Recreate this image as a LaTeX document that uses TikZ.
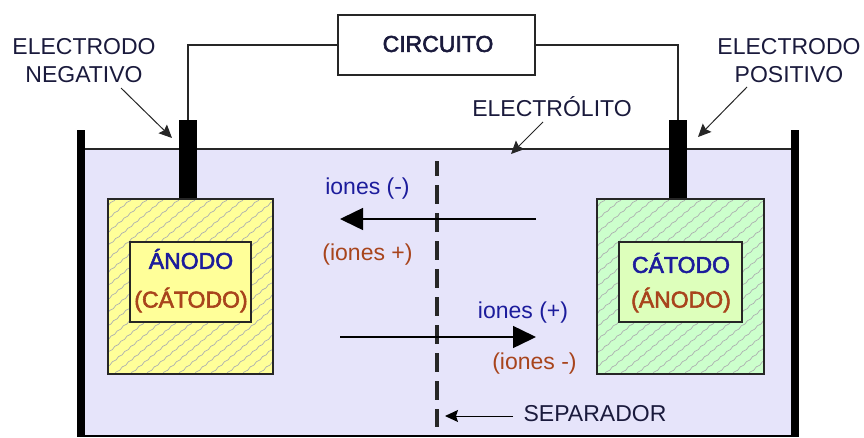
\documentclass[tikz,border=0pt]{standalone}
\usepackage{fontspec}
\setmainfont{Liberation Sans}
\newfontfamily\negrita[FakeBold=2.5]{Liberation Sans}
\usetikzlibrary{arrows.meta, decorations.pathmorphing}
\definecolor{liquido}{HTML}{E6E4FA}
\definecolor{amarillo}{HTML}{FFFF99}
\definecolor{verde}{HTML}{CCFFCC}
\definecolor{verdeclaro}{HTML}{DDFFBB}
\definecolor{azul}{HTML}{1C1C9C}
\definecolor{marron}{HTML}{A8441C}
\definecolor{rotulo}{HTML}{1A1A3C}
\definecolor{rayado}{HTML}{ADB0B0}
\tikzset{
  txt/.style={font=\fontsize{23}{26}\selectfont, text=rotulo, inner sep=0pt, align=center},
  txtb/.style={font=\fontsize{23}{26}\negrita, text=rotulo, inner sep=0pt, align=center},
  caja/.style={draw=black!85, line width=1.5pt, inner sep=0pt, outer sep=0pt},
  barra/.style={fill=black, inner sep=0pt, outer sep=0pt, minimum width=18pt},
  flecha/.style={-{Stealth[length=13pt, width=12pt, inset=2pt]}, black!85, line width=1pt},
  flechaion/.style={-{Triangle[length=23pt, width=22pt]}, line width=1.5pt},
  rayas/.style={path picture={
    \foreach \d in {-300,-284,...,120}
      \draw[rayado, line width=0.7pt, decorate, decoration={snake, segment length=8pt, amplitude=0.5pt}]
        ([xshift=\d pt]path picture bounding box.south) -- ++(215,-180);
  }},
}
\begin{document}
\begin{tikzpicture}[x=1pt, y=-1pt, >=Stealth]
  \useasboundingbox (0,0) rectangle (864,437);
  % Liquid and tank
  \fill[liquido] (81,149) rectangle (795,437);
  \draw[black!85, line width=1.2pt] (81,149) -- (795,149);
  \draw[line width=1.5pt] (81,436) -- (795,436);
  \draw[line width=8pt] (81,130) -- (81,437);
  \draw[line width=8pt] (795,130) -- (795,437);
  % Electrodes
  \node[barra, minimum height=79pt] (neg) at (188,159.5) {};
  \node[barra, minimum height=79pt] (pos) at (678,159.5) {};
  % Plates
  \node[caja, fill=amarillo, rayas, minimum width=165pt, minimum height=175pt] (placaneg) at (190.5,286.5) {};
  \node[caja, fill=verde, rayas, minimum width=167pt, minimum height=175pt] (placapos) at (680.5,286.5) {};
  \node[caja, fill=amarillo, minimum width=121pt, minimum height=80pt] (cajaneg) at (190.5,282) {};
  \node[caja, fill=verdeclaro, minimum width=123pt, minimum height=80pt] (cajapos) at (680.5,282) {};
  \node[txtb, text=azul] (anodo) at (191,259) {ÁNODO};
  \node[txtb, text=marron] (catodop) at (191,300) {(CÁTODO)};
  \node[txtb, text=azul] (catodo) at (681,263) {CÁTODO};
  \node[txtb, text=marron] (anodop) at (681,300) {(ÁNODO)};
  % Circuit
  \node[caja, fill=white, minimum width=197pt, minimum height=60pt] (circuito) at (436.5,45) {};
  \node[txtb] (circuitotxt) at (438,44) {CIRCUITO};
  \draw[black!85, line width=1.5pt] (neg.north) |- (circuito.west);
  \draw[black!85, line width=1.5pt] (pos.north) |- (circuito.east);
  % Labels with arrows
  \node[txt] (negtxt) at (84,61) {ELECTRODO\\[2pt]NEGATIVO};
  \node[txt] (postxt) at (789,61) {ELECTRODO\\[2pt]POSITIVO};
  \node[txt] (electxt) at (552,107) {ELECTRÓLITO};
  \node[txt] (septxt) at (595,414) {SEPARADOR};
  \coordinate (negini) at (121,88);
  \coordinate (negfin) at (172,138);
  \coordinate (posini) at (747,87);
  \coordinate (posfin) at (698,137);
  \coordinate (elecini) at (543,122);
  \coordinate (elecfin) at (511,154);
  \coordinate (sepini) at (513,416);
  \coordinate (sepfin) at (445,416);
  \draw[flecha] (negini) -- (negfin);
  \draw[flecha] (posini) -- (posfin);
  \draw[flecha] (elecini) -- (elecfin);
  \draw[flecha, black] (sepini) -- (sepfin);
  % Separator
  \coordinate (sepa) at (437,161);
  \coordinate (sepb) at (437,427);
  \draw[black!85, line width=4pt, dash pattern=on 19pt off 9pt, dash phase=4pt] (sepa) -- (sepb);
  % Ion arrows
  \coordinate (ionder) at (536,219);
  \coordinate (ionizq) at (340,219);
  \coordinate (ionizqb) at (340,337);
  \coordinate (ionderb) at (536,337);
  \draw[flechaion] (ionder) -- (ionizq);
  \draw[flechaion] (ionizqb) -- (ionderb);
  \node[txt, text=azul] (ionesa) at (367.5,189) {iones (-)};
  \node[txt, text=marron] (ionesb) at (367.5,255) {(iones +)};
  \node[txt, text=azul] (ionesc) at (523,313) {iones (+)};
  \node[txt, text=marron] (ionesd) at (534.5,364) {(iones -)};
\end{tikzpicture}
\end{document}
